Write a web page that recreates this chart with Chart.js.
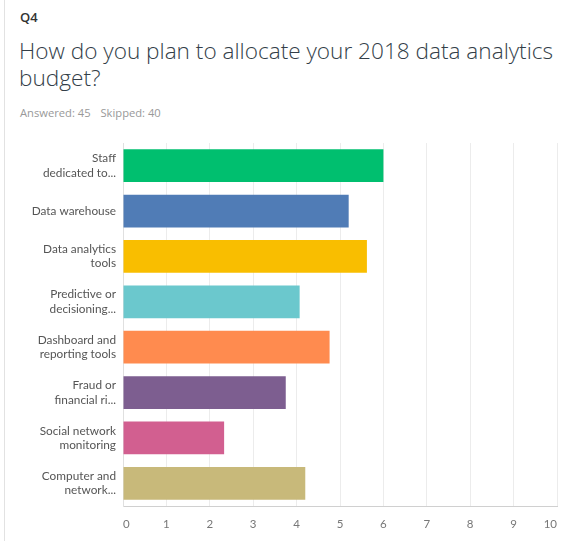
<!DOCTYPE html>
<html>
<head>
<meta charset="utf-8">
<script src="https://cdn.jsdelivr.net/npm/chart.js@4"></script>
<style>
  body { margin: 0; background: #fff; width: 561px; height: 541px; overflow: hidden; font-family: "Open Sans", sans-serif; }
  .card { position: absolute; left: 4px; top: 0; width: 557px; height: 541px; border-left: 1px solid #e2e2e2; }
  .qnum { position: absolute; left: 20px; top: 8px; font-size: 13px; font-weight: 600; color: #333; }
  .title { position: absolute; left: 19px; top: 37px; width: 542px; font-size: 22.6px; font-weight: 300; line-height: 27px; color: #333e48; }
  .stats { position: absolute; left: 20px; top: 105px; font-size: 11.2px; color: #999; }
  .stats span { margin-right: 7px; }
  #wrap { position: absolute; left: 0; top: 130px; width: 561px; height: 411px; }
</style>
</head>
<body>
<div class="card"></div>
<div class="qnum">Q4</div>
<div class="title">How do you plan to allocate your 2018 data analytics budget?</div>
<div class="stats"><span>Answered: 45</span> <span>Skipped: 40</span></div>
<div id="wrap"><canvas id="chart"></canvas></div>
<script>
// categories, values
const categories = [
    ["Staff", "dedicated to..."],
    ["Data warehouse"],
    ["Data analytics", "tools"],
    ["Predictive or", "decisioning..."],
    ["Dashboard and", "reporting tools"],
    ["Fraud or", "financial ri..."],
    ["Social network", "monitoring"],
    ["Computer and", "network..."]
]
const values = [6.0, 5.2, 5.62, 4.07, 4.76, 3.75, 2.33, 4.2]
const barColors = ["#00bf6f", "#507cb6", "#f9be00", "#6bc8cd", "#ff8b4f", "#7d5e90", "#d25f90", "#c8b97a"]
const xTicks = [0, 1, 2, 3, 4, 5, 6, 7, 8, 9, 10]

const ctx = document.getElementById("chart")
new Chart(ctx, {
    type: "bar",
    data: {
        labels: categories,
        datasets: [{
            data: values,
            backgroundColor: barColors,
            borderWidth: 0,
            barPercentage: 0.72,
            categoryPercentage: 1
        }]
    },
    options: {
        indexAxis: "y",
        responsive: true,
        maintainAspectRatio: false,
        animation: false,
        layout: { padding: { top: 13, right: 4, left: 0, bottom: 0 } },
        plugins: { legend: { display: false }, tooltip: { enabled: false } },
        scales: {
            x: {
                min: 0,
                max: 10,
                afterBuildTicks: axis => { axis.ticks = xTicks.map(v => ({ value: v })) },
                afterFit: scale => {
                    scale.height = 35
                    scale.paddingLeft = 0
                    scale.paddingRight = 0
                },
                grid: { color: "#ececec", drawTicks: false },
                border: { color: "#d0d0d0" },
                ticks: { align: "inner", padding: 11, color: "#777", font: { family: "Lato", size: 11.5 } }
            },
            y: {
                afterFit: scale => {
                    scale.width = 123
                    scale.paddingTop = 0
                    scale.paddingBottom = 0
                },
                grid: { display: false, drawTicks: false },
                border: { color: "#e0e0e0" },
                ticks: { padding: 7, color: "#555", font: { family: "Lato", size: 11.8, lineHeight: 1.22 } }
            }
        }
    }
})
</script>
</body>
</html>
